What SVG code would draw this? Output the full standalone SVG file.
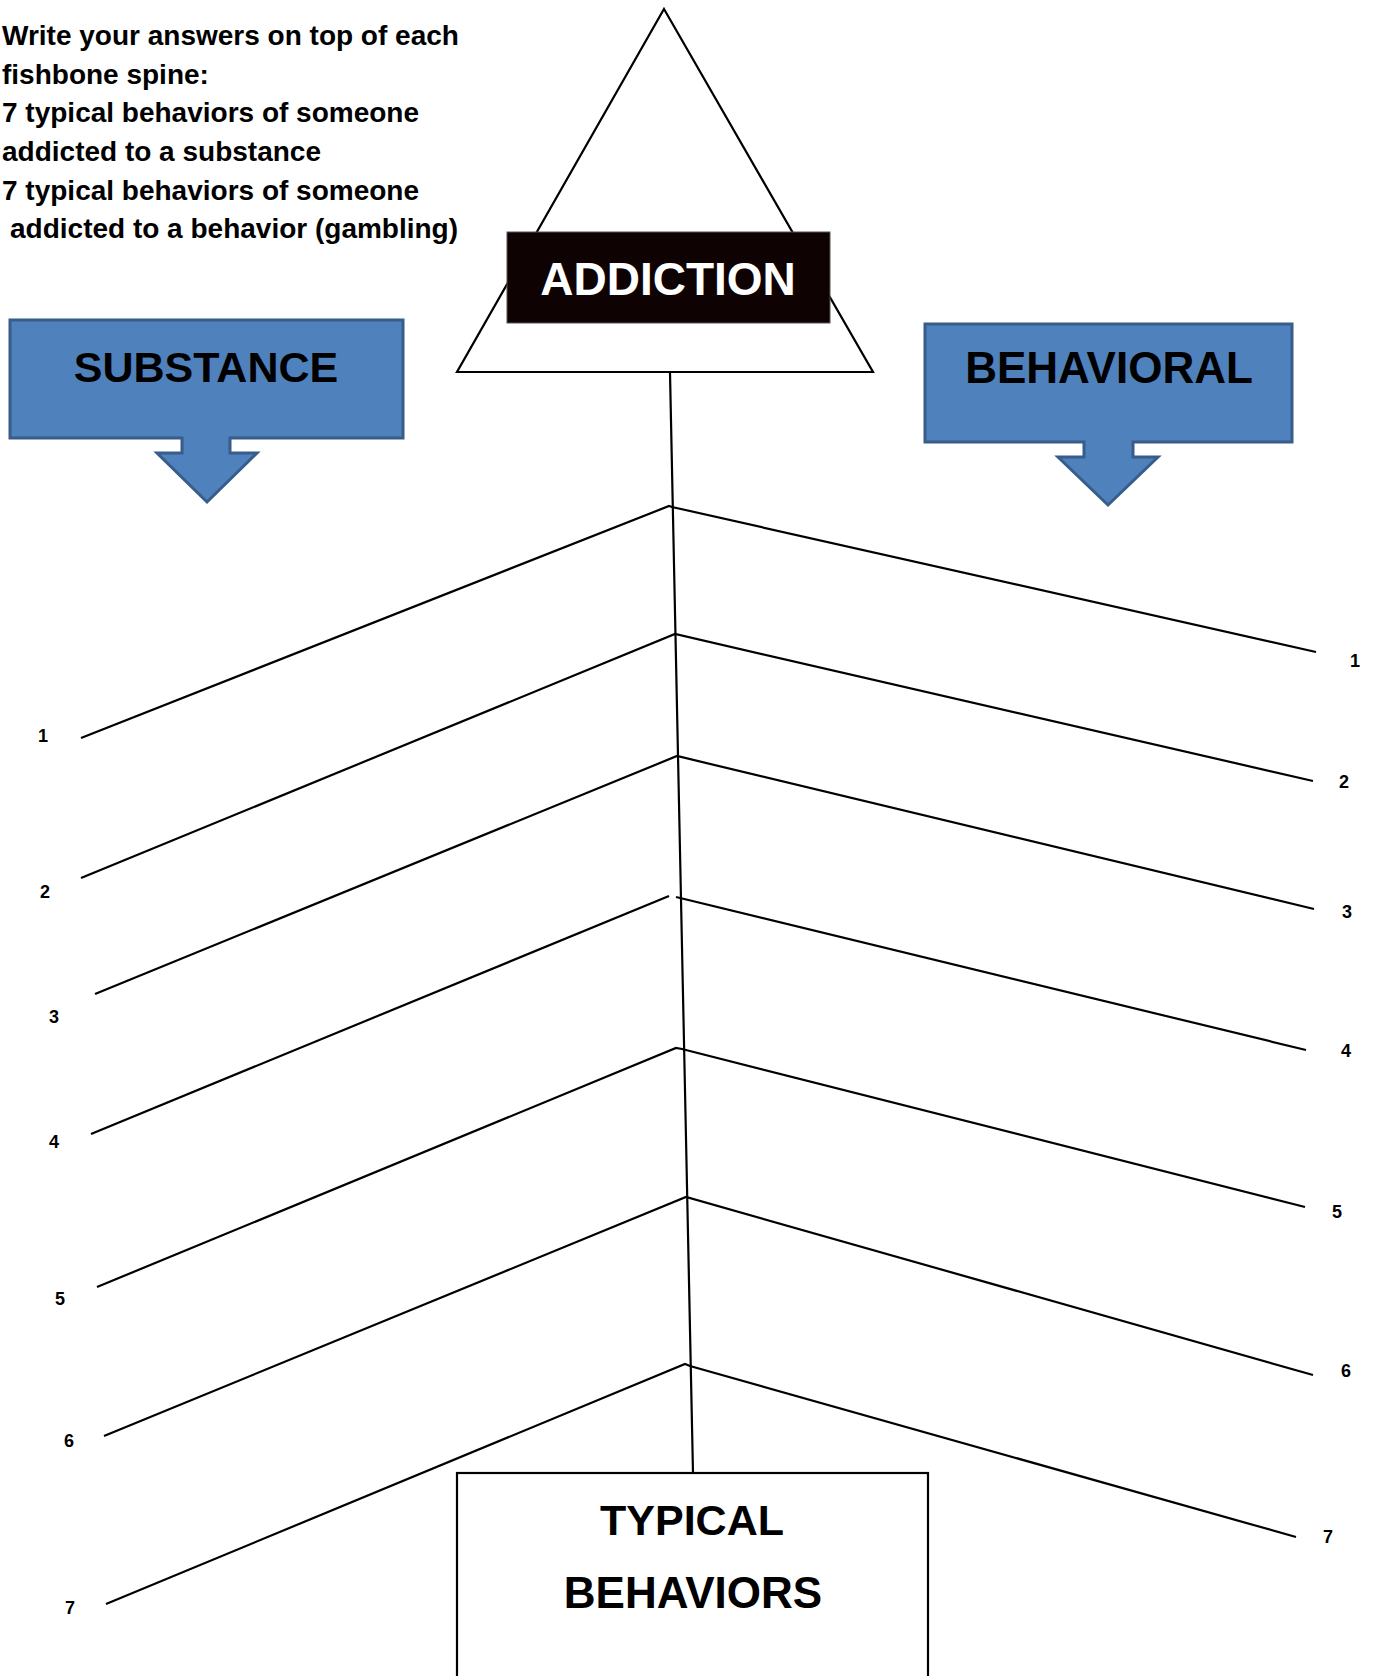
<svg xmlns="http://www.w3.org/2000/svg" width="1376" height="1676" viewBox="0 0 1376 1676">
<style>
.ln{stroke:#000;stroke-width:2.2;fill:none;stroke-linecap:butt}
.bold{font-family:"Liberation Sans",Arial,sans-serif;font-weight:bold}
.intro{font-size:28px;fill:#000}
.big{font-size:43px;fill:#000;text-anchor:middle}
.num{font-size:18px;fill:#000;text-anchor:middle}
.callout{fill:#4f81bd;stroke:#385d8a;stroke-width:3}
</style>
<rect width="1376" height="1676" fill="#fff"/>
<g id="instructions" class="bold intro">
<text x="2" y="45">Write your answers on top of each</text>
<text x="2" y="84">fishbone spine:</text>
<text x="2" y="122">7 typical behaviors of someone</text>
<text x="2" y="161">addicted to a substance</text>
<text x="2" y="200">7 typical behaviors of someone</text>
<text x="10" y="238">addicted to a behavior (gambling)</text>
</g>
<g id="connectors">
<line class="ln" x1="670" y1="373" x2="693" y2="1473"/>
<polyline class="ln" points="81,738 669,506 672,507 1316,652"/>
<polyline class="ln" points="81,878 675,634 1313,781"/>
<polyline class="ln" points="95,994 677,756 1314,909"/>
<line class="ln" x1="91" y1="1134" x2="669" y2="896"/>
<line class="ln" x1="676" y1="897" x2="1306" y2="1050"/>
<polyline class="ln" points="97,1287 676,1048 682,1049 1305,1207"/>
<polyline class="ln" points="104,1436 686,1197 1313,1375"/>
<polyline class="ln" points="106,1604 685,1364 690,1366 1296,1537"/>
</g>
<g id="addiction">
<polygon points="664,9 873,372 457,372" fill="#fff" stroke="#000" stroke-width="2.2"/>
<rect x="507" y="232" width="323" height="91" fill="#0f0202" stroke="#555" stroke-width="1"/>
<text class="bold" x="668" y="295" font-size="46" fill="#fff" text-anchor="middle">ADDICTION</text>
</g>
<g id="substance">
<path class="callout" d="M10,320 H403 V438 H230 V453 H257 L207,502 L157,453 H182 V438 H10 Z"/>
<text class="bold big" x="206" y="382" font-size="42">SUBSTANCE</text>
</g>
<g id="behavioral">
<path class="callout" d="M925,324 H1292 V442 H1133 V457 H1158 L1108,505 L1058,457 H1084 V442 H925 Z"/>
<text class="bold big" x="1109" y="383" style="font-size:44px">BEHAVIORAL</text>
</g>
<g id="typical-behaviors">
<rect x="457" y="1473" width="471" height="260" fill="#fff" stroke="#000" stroke-width="2.2"/>
<text class="bold big" x="692" y="1535">TYPICAL</text>
<text class="bold big" x="693" y="1608" style="font-size:44px">BEHAVIORS</text>
</g>
<g id="labels-left" class="bold num">
<text x="43" y="742">1</text>
<text x="45" y="898">2</text>
<text x="54" y="1023">3</text>
<text x="54" y="1148">4</text>
<text x="60" y="1305">5</text>
<text x="69" y="1447">6</text>
<text x="70" y="1614">7</text>
</g>
<g id="labels-right" class="bold num">
<text x="1355" y="667">1</text>
<text x="1344" y="788">2</text>
<text x="1347" y="918">3</text>
<text x="1346" y="1057">4</text>
<text x="1337" y="1218">5</text>
<text x="1346" y="1377">6</text>
<text x="1328" y="1543">7</text>
</g>
</svg>
